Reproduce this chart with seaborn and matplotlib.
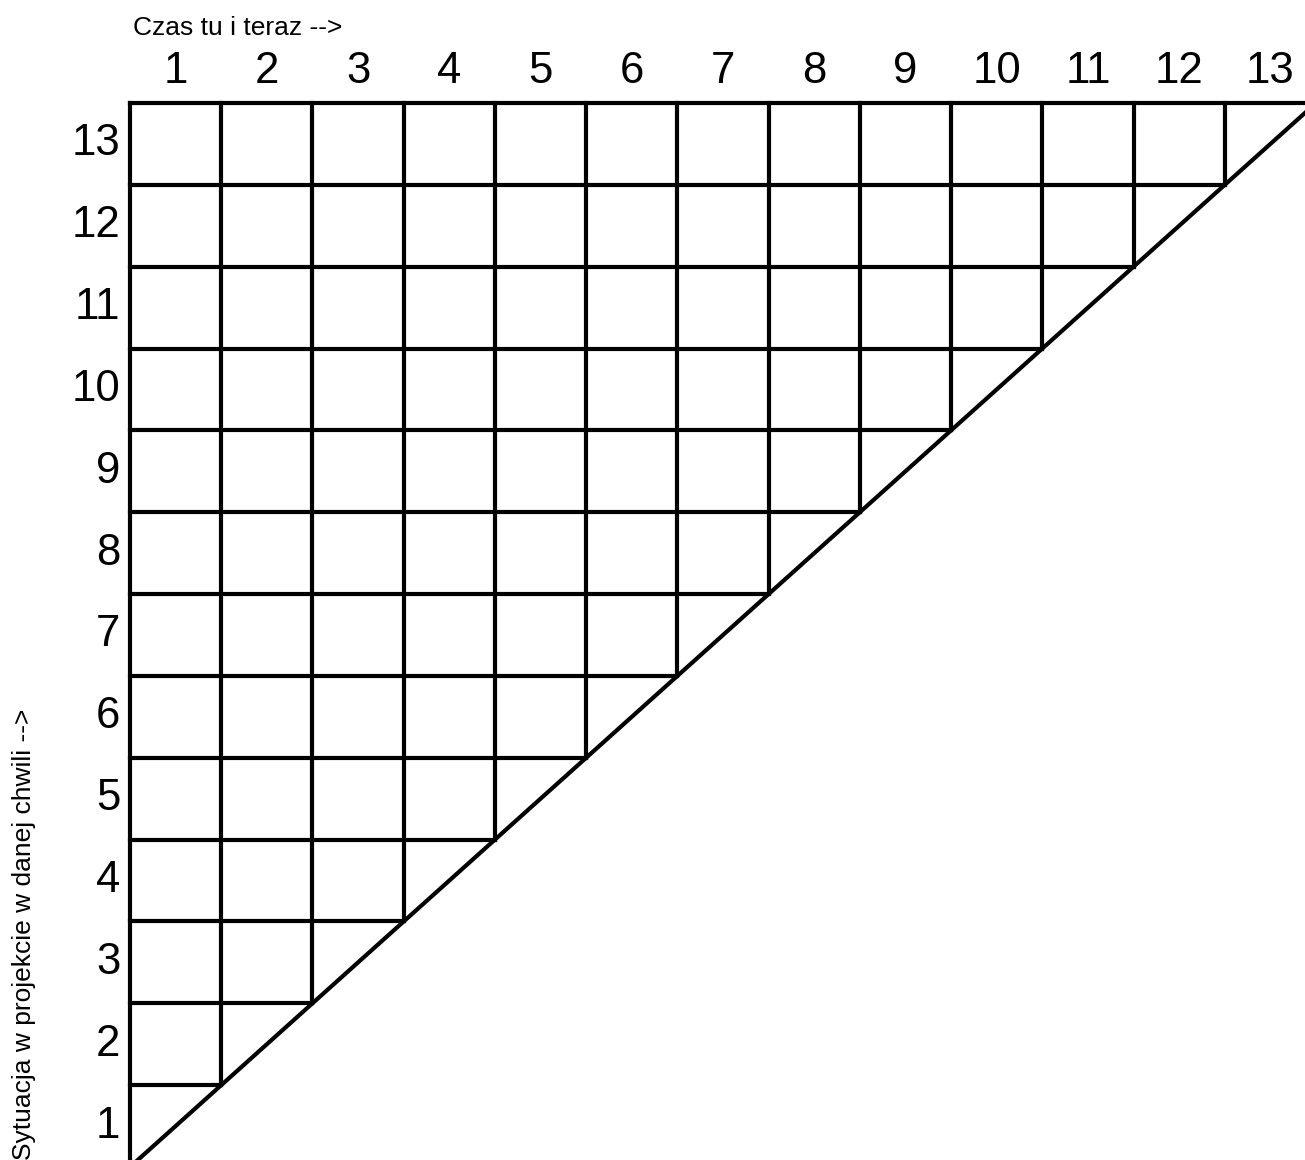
import numpy as np
import pandas as pd
import matplotlib
matplotlib.use("Agg")
import matplotlib.pyplot as plt
from matplotlib.colors import ListedColormap
import seaborn as sns

# chart content
cols = [1, 2, 3, 4, 5, 6, 7, 8, 9, 10, 11, 12, 13]
rows = [13, 12, 11, 10, 9, 8, 7, 6, 5, 4, 3, 2, 1]
xlabel_txt = "Czas tu i teraz -->"
ylabel_txt = "Sytuacja w projekcie w danej chwili -->"

sns.set_theme(style="white", rc={"text.color": "black", "xtick.color": "black",
                                 "ytick.color": "black"})
plt.rcParams["font.family"] = ["Liberation Sans", "DejaVu Sans"]

n = len(cols)
grid = pd.DataFrame(np.zeros((len(rows), n)), index=rows, columns=cols)
# cells exist where column <= row (the diagonal cell is cut in half)
mask = pd.DataFrame([[c > r for c in cols] for r in rows], index=rows, columns=cols)

# grid line segments in heatmap coordinates, each ending on the diagonal
segs = []
for k in range(n):
    segs.append({"seg": f"h{k}", "x": 0, "y": k})
    segs.append({"seg": f"h{k}", "x": n - k, "y": k})
    segs.append({"seg": f"v{k}", "x": k, "y": 0})
    segs.append({"seg": f"v{k}", "x": k, "y": n - k})
segs.append({"seg": "diag", "x": 0, "y": n})
segs.append({"seg": "diag", "x": n, "y": 0})
segs = pd.DataFrame(segs)

fig = plt.figure(figsize=(13.05, 11.6), dpi=100)
ax = fig.add_axes([130 / 1305, -7 / 1160, 1186 / 1305, 1064 / 1160])

sns.heatmap(grid, mask=mask, cmap=ListedColormap(["white"]), cbar=False,
            linewidths=0, ax=ax, square=False)
sns.lineplot(data=segs, x="x", y="y", units="seg", estimator=None, sort=False,
             color="black", lw=3.0, ax=ax, legend=False)
for ln in ax.lines:
    ln.set_clip_on(False)
    ln.set_solid_capstyle("projecting")

ax.set_xlim(0, n)
ax.set_ylim(n, 0)
ax.xaxis.tick_top()
ax.set_xlabel("")
ax.set_ylabel("")
ax.set_xticks(np.arange(n) + 0.5)
ax.set_yticks(np.arange(n) + 0.5)
ax.set_xticklabels(cols, fontsize=31.5)
ax.set_yticklabels(rows, fontsize=31.5, rotation=0)
ax.tick_params(axis="x", length=0, pad=8)
ax.tick_params(axis="y", length=0, pad=7)

fig.text(133 / 1305, 1 - 35 / 1160, xlabel_txt, fontsize=19, ha="left", va="baseline")
fig.text(24 / 1305, 0.0, ylabel_txt, fontsize=19, rotation=90, ha="center", va="bottom")

fig.savefig("out.png", dpi=100)
